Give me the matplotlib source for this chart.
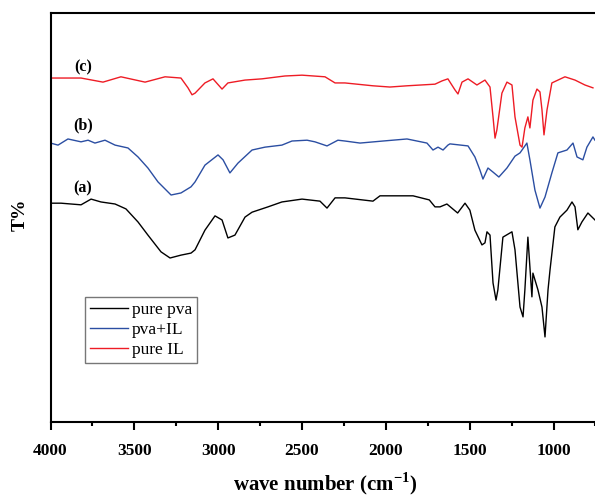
import matplotlib
matplotlib.use("Agg")
import matplotlib.pyplot as plt
from matplotlib.ticker import MultipleLocator

plt.rcParams['font.family'] = ['Liberation Serif', 'DejaVu Serif']
plt.rcParams['mathtext.fontset'] = 'custom'
plt.rcParams['mathtext.rm'] = 'Liberation Serif'
plt.rcParams['mathtext.bf'] = 'Liberation Serif:bold'

# (a) pure PVA
wn_pva = [4000, 3937, 3818, 3758, 3699, 3615, 3550, 3478, 3419, 3341, 3287, 3222,
          3162, 3138, 3079, 3019, 2977, 2942, 2900, 2840, 2798, 2703, 2620, 2500,
          2393, 2351, 2303, 2244, 2077, 2035, 1838, 1741, 1707, 1677, 1636, 1572,
          1528, 1499, 1469, 1427, 1409, 1397, 1379, 1361, 1343, 1332, 1302, 1248,
          1230, 1200, 1182, 1171, 1153, 1141, 1129, 1123, 1093, 1069, 1051, 1033,
          1021, 992, 962, 920, 890, 872, 855, 831, 795, 753]
t_pva = [53.5, 53.5, 53.1, 54.5, 53.8, 53.3, 52.1, 48.9, 45.7, 41.6, 40.1, 40.8,
         41.3, 42.1, 46.9, 50.4, 49.4, 45.0, 45.7, 50.1, 51.3, 52.6, 53.8, 54.5,
         54.0, 52.3, 54.8, 54.8, 54.0, 55.3, 55.3, 54.3, 52.6, 52.6, 53.3, 51.1,
         53.5, 51.8, 46.9, 43.3, 43.8, 46.5, 45.7, 34.0, 29.8, 32.3, 45.2, 46.5,
         42.1, 28.1, 25.7, 32.3, 45.2, 37.9, 30.6, 36.4, 32.3, 28.1, 20.8, 32.3,
         37.2, 47.7, 50.1, 51.8, 53.8, 52.6, 47.0, 48.9, 51.1, 49.4]

# (b) PVA + ionic liquid
wn_pva_il = [4000, 3955, 3896, 3818, 3776, 3735, 3675, 3615, 3538, 3478, 3419, 3359,
             3281, 3222, 3162, 3138, 3079, 3001, 2971, 2930, 2882, 2798, 2721, 2620,
             2560, 2470, 2423, 2351, 2286, 2244, 2154, 2017, 1874, 1755, 1719, 1689,
             1659, 1630, 1618, 1510, 1469, 1439, 1421, 1391, 1361, 1326, 1278, 1230,
             1200, 1159, 1141, 1111, 1081, 1051, 1010, 974, 920, 884, 860, 825,
             801, 765, 753]
t_pva_il = [68.2, 67.7, 69.2, 68.5, 68.9, 68.2, 68.9, 67.7, 67.0, 64.8, 62.1, 58.7,
            55.5, 56.0, 57.5, 58.7, 62.8, 65.3, 64.1, 60.9, 63.3, 66.5, 67.2, 67.7,
            68.7, 68.9, 68.5, 67.5, 68.9, 68.7, 68.2, 68.7, 69.2, 68.2, 66.5, 67.2,
            66.5, 67.7, 68.0, 67.5, 64.8, 61.6, 59.4, 62.1, 61.1, 59.9, 62.1, 65.0,
            65.8, 68.2, 64.1, 56.7, 52.3, 55.0, 60.9, 65.8, 66.5, 68.2, 64.8, 64.1,
            67.2, 69.7, 68.9]

# (c) pure ionic liquid
wn_il = [4000, 3818, 3687, 3580, 3436, 3317, 3222, 3180, 3156, 3138, 3079, 3031,
         2977, 2942, 2840, 2739, 2602, 2500, 2363, 2303, 2244, 2077, 1976, 1874,
         1707, 1665, 1630, 1588, 1570, 1546, 1510, 1457, 1409, 1379, 1361, 1349,
         1338, 1308, 1278, 1248, 1230, 1200, 1188, 1171, 1153, 1141, 1123, 1099,
         1081, 1069, 1057, 1039, 1010, 932, 872, 813, 765]
t_il = [84.1, 84.1, 83.1, 84.4, 83.1, 84.4, 84.1, 81.7, 80.0, 80.4, 82.9, 83.9,
        81.4, 82.9, 83.6, 83.9, 84.6, 84.8, 84.4, 82.9, 82.9, 82.2, 81.9, 82.2,
        82.6, 83.4, 83.9, 81.2, 80.2, 83.1, 83.9, 82.4, 83.6, 81.9, 74.6, 69.4,
        71.4, 80.4, 83.1, 82.4, 74.6, 67.7, 67.2, 71.9, 74.6, 71.9, 78.7, 81.4,
        80.7, 76.3, 70.2, 76.3, 82.9, 84.4, 83.6, 82.4, 81.7]

fig = plt.figure(figsize=(5.95, 4.97), dpi=100)
ax = fig.add_axes([50.5 / 595, 75 / 497, 550 / 595, 409 / 497])

ax.plot(wn_pva, t_pva, color='black', lw=1.0, label='pure pva')
ax.plot(wn_pva_il, t_pva_il, color='#2b4ea2', lw=1.0, label='pva+IL')
ax.plot(wn_il, t_il, color='#ee1c25', lw=1.0, label='pure IL')

ax.text(3806, 86.8, '(c)', fontsize=11.5, fontweight='bold', ha='center', va='center')
ax.text(3806, 72.4, '(b)', fontsize=11.5, fontweight='bold', ha='center', va='center')
ax.text(3806, 57.2, '(a)', fontsize=11.5, fontweight='bold', ha='center', va='center')

ax.set_xlim(4000, 720)
ax.set_ylim(0, 100)
ax.xaxis.set_major_locator(MultipleLocator(500))
ax.xaxis.set_minor_locator(MultipleLocator(250))
ax.tick_params(axis='x', which='major', direction='out', length=6, width=1.5, pad=9,
               labelsize=12.5)
ax.tick_params(axis='x', which='minor', direction='out', length=3, width=1.5)
ax.set_yticks([])
for lab in ax.get_xticklabels():
    lab.set_fontweight('bold')
for sp in ax.spines.values():
    sp.set_linewidth(1.5)

ax.set_xlabel('wave number (cm$^{\\mathbf{-1}}$)', fontsize=15, fontweight='bold',
              labelpad=8)
fig.text(20 / 595, 1 - 215 / 497, 'T%', rotation=90, fontsize=14, fontweight='bold',
         ha='center', va='center')

leg = ax.legend(loc='upper left', bbox_to_anchor=(85 / 595, 1 - 297 / 497),
                bbox_transform=fig.transFigure, fontsize=12.5, frameon=True,
                fancybox=False, edgecolor='#555555', handlelength=2.2,
                handletextpad=0.2, borderpad=0.3, labelspacing=0.2,
                borderaxespad=0)
leg.get_frame().set_linewidth(1.0)

fig.savefig('out.png', dpi=100)
